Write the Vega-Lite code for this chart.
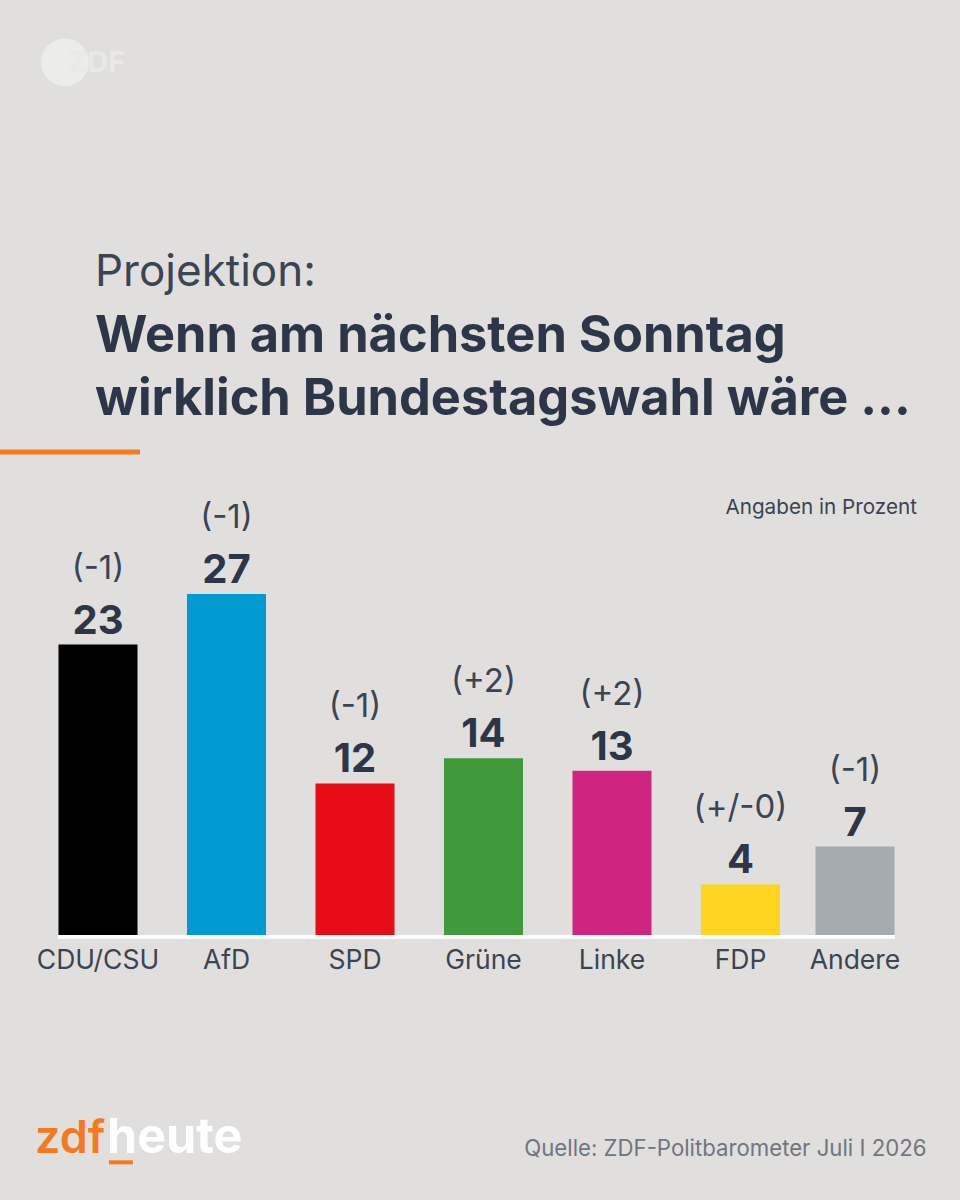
{
  "$schema": "https://vega.github.io/schema/vega-lite/v6.json",
  "width": 960,
  "height": 465,
  "autosize": "none",
  "padding": {"left": 0, "top": 470, "right": 0, "bottom": 265},
  "background": "#e0dfdd",
  "title": {
    "text": "Projektion:",
    "subtitle": ["Wenn am nächsten Sonntag", "wirklich Bundestagswahl wäre ..."],
    "anchor": "start",
    "frame": "group",
    "dx": 95,
    "offset": -387,
    "font": "Inter",
    "fontSize": 44,
    "fontWeight": "normal",
    "color": "#3b4453",
    "subtitleFont": "Inter",
    "subtitleFontSize": 50.5,
    "subtitleFontWeight": "bold",
    "subtitleColor": "#2c3648",
    "subtitleLineHeight": 63,
    "subtitlePadding": 17
  },
  "datasets": {
    "parties": [
      {"party": "CDU/CSU", "value": 23, "change": "(-1)"},
      {"party": "AfD", "value": 27, "change": "(-1)"},
      {"party": "SPD", "value": 12, "change": "(-1)"},
      {"party": "Grüne", "value": 14, "change": "(+2)"},
      {"party": "Linke", "value": 13, "change": "(+2)"},
      {"party": "FDP", "value": 4, "change": "(+/-0)"},
      {"party": "Andere", "value": 7, "change": "(-1)"}
    ]
  },
  "data": {"name": "parties"},
  "encoding": {
    "x": {
      "field": "party",
      "type": "nominal",
      "sort": null,
      "scale": {"range": [33.75, 933.25], "paddingInner": 0.385, "paddingOuter": 0.1925},
      "axis": {
        "domain": false,
        "ticks": false,
        "labelAngle": 0,
        "labelFont": "Inter",
        "labelFontSize": 26.5,
        "labelColor": "#3b4453",
        "labelPadding": 12,
        "labelOffset": {"condition": {"test": "datum.label == 'Andere'", "value": -14}, "value": 0},
        "title": "Quelle: ZDF-Politbarometer Juli I 2026",
        "titleFont": "Inter",
        "titleFontSize": 22.2,
        "titleFontWeight": "normal",
        "titleColor": "#6f7681",
        "titleAlign": "right",
        "titleBaseline": "alphabetic",
        "titleX": 926,
        "titleY": 220
      }
    },
    "y": {
      "field": "value",
      "type": "quantitative",
      "scale": {"domain": [0, 36.82], "nice": false},
      "axis": null
    }
  },
  "layer": [
    {
      "transform": [{"filter": "datum.party != 'Andere'"}],
      "layer": [
        {
          "mark": {"type": "bar"},
          "encoding": {
            "color": {
              "field": "party",
              "type": "nominal",
              "scale": {
                "domain": ["CDU/CSU", "AfD", "SPD", "Grüne", "Linke", "FDP", "Andere"],
                "range": ["#000000", "#009bd0", "#e80c16", "#409a3c", "#cf2480", "#ffd41f", "#a6abb0"]
              },
              "legend": null
            }
          }
        },
        {
          "mark": {"type": "text", "font": "Inter", "fontSize": 40, "fontWeight": "bold", "color": "#2c3648", "baseline": "alphabetic", "dy": -11},
          "encoding": {"text": {"field": "value", "type": "quantitative"}}
        },
        {
          "mark": {"type": "text", "font": "Inter", "fontSize": 33, "color": "#3b4453", "baseline": "alphabetic", "dy": -66},
          "encoding": {"text": {"field": "change", "type": "nominal"}}
        }
      ]
    },
    {
      "transform": [{"filter": "datum.party == 'Andere'"}],
      "layer": [
        {
          "mark": {"type": "bar", "xOffset": -14, "color": "#a6abb0"}
        },
        {
          "mark": {"type": "text", "font": "Inter", "fontSize": 40, "fontWeight": "bold", "color": "#2c3648", "baseline": "alphabetic", "dy": -11, "dx": -14},
          "encoding": {"text": {"field": "value", "type": "quantitative"}}
        },
        {
          "mark": {"type": "text", "font": "Inter", "fontSize": 33, "color": "#3b4453", "baseline": "alphabetic", "dy": -66, "dx": -14},
          "encoding": {"text": {"field": "change", "type": "nominal"}}
        }
      ]
    },
    {
      "data": {"values": [{"from": "CDU/CSU", "to": "Andere", "level": -0.16}]},
      "mark": {"type": "rule", "color": "#ffffff", "strokeWidth": 4, "xOffset": -40, "x2Offset": 26},
      "encoding": {
        "x": {"field": "from", "type": "nominal"},
        "x2": {"field": "to"},
        "y": {"field": "level", "type": "quantitative"}
      }
    },
    {
      "data": {"values": [{"from": "CDU/CSU", "level": 38.24}]},
      "mark": {"type": "rule", "color": "#f47a20", "strokeWidth": 5, "xOffset": -98, "x2Offset": 42, "clip": false},
      "encoding": {
        "x": {"field": "from", "type": "nominal"},
        "x2": {"field": "from"},
        "y": {"field": "level", "type": "quantitative"}
      }
    },
    {
      "data": {"values": [{"from": "CDU/CSU", "level": -18}]},
      "mark": {"type": "rule", "color": "#f47a20", "strokeWidth": 4, "xOffset": 11, "x2Offset": 35},
      "encoding": {
        "x": {"field": "from", "type": "nominal"},
        "x2": {"field": "from"},
        "y": {"field": "level", "type": "quantitative"}
      }
    },
    {
      "data": {"values": [{"at": "CDU/CSU", "level": 69.1}]},
      "mark": {"type": "point", "filled": true, "shape": "circle", "size": 2290, "color": "#ecedeb", "opacity": 1, "xOffset": -33},
      "encoding": {
        "x": {"field": "at", "type": "nominal"},
        "y": {"field": "level", "type": "quantitative"}
      }
    },
    {
      "data": {"values": [{"at": "CDU/CSU", "level": 68.3, "label": "ZDF"}]},
      "mark": {"type": "text", "font": "Inter", "fontSize": 29, "fontWeight": "bold", "color": "#e9e9e7", "align": "left", "baseline": "alphabetic", "dx": -30},
      "encoding": {
        "x": {"field": "at", "type": "nominal"},
        "y": {"field": "level", "type": "quantitative"},
        "text": {"field": "label"}
      }
    },
    {
      "data": {"values": [{"at": "Andere", "level": 33.3, "label": "Angaben in Prozent"}]},
      "mark": {"type": "text", "font": "Inter", "fontSize": 20.7, "color": "#3b4453", "align": "right", "baseline": "alphabetic", "dx": 48},
      "encoding": {
        "x": {"field": "at", "type": "nominal"},
        "y": {"field": "level", "type": "quantitative"},
        "text": {"field": "label"}
      }
    },
    {
      "data": {"values": [{"at": "CDU/CSU", "level": -17.26, "label": "zdf"}]},
      "mark": {"type": "text", "font": "Inter", "fontSize": 45, "fontWeight": 600, "color": "#f47a20", "align": "left", "baseline": "alphabetic", "dx": -63},
      "encoding": {
        "x": {"field": "at", "type": "nominal"},
        "y": {"field": "level", "type": "quantitative"},
        "text": {"field": "label"}
      }
    },
    {
      "data": {"values": [{"at": "CDU/CSU", "level": -17.26, "label": "heute"}]},
      "mark": {"type": "text", "font": "Inter", "fontSize": 48.5, "fontWeight": "bold", "color": "#ffffff", "align": "left", "baseline": "alphabetic", "dx": 9},
      "encoding": {
        "x": {"field": "at", "type": "nominal"},
        "y": {"field": "level", "type": "quantitative"},
        "text": {"field": "label"}
      }
    }
  ],
  "config": {"view": {"stroke": null}}
}
